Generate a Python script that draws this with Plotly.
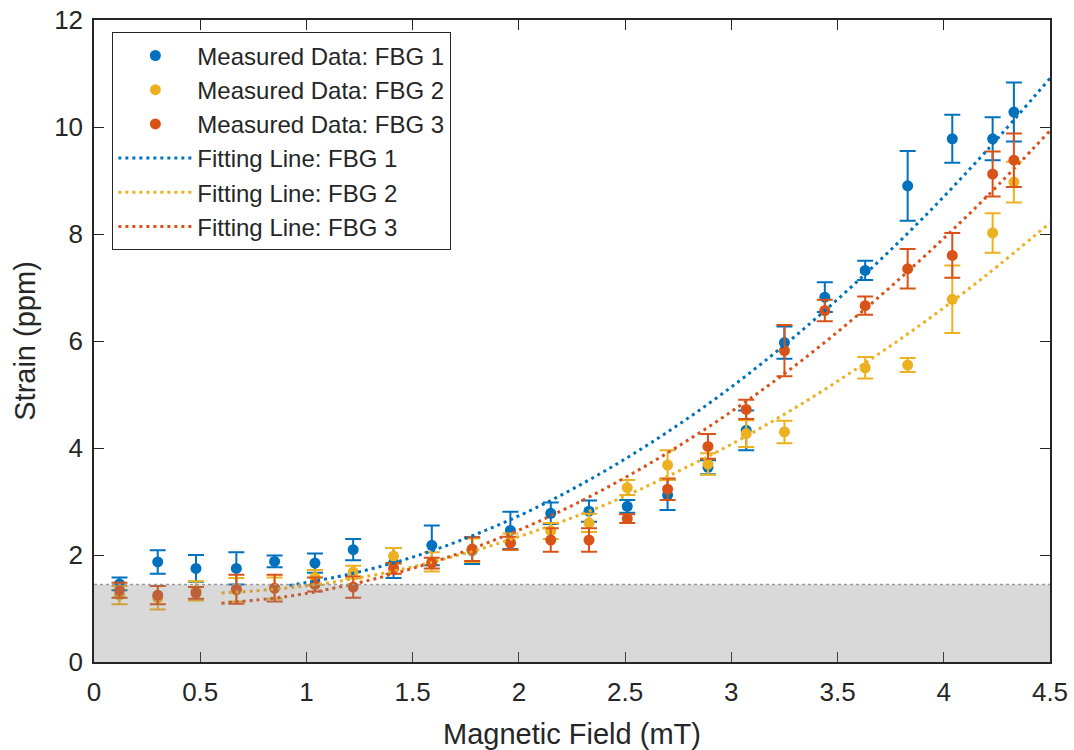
import plotly.graph_objects as go

# Magnetic field positions (mT) of the measurements
field = [0.12, 0.30, 0.48, 0.67, 0.85, 1.04, 1.22, 1.41, 1.59, 1.78, 1.96, 2.15,
         2.33, 2.51, 2.70, 2.89, 3.07, 3.25, 3.44, 3.63, 3.83, 4.04, 4.23, 4.33]

# FBG 1 strain (ppm) and its uncertainty
fbg1 = [1.46, 1.87, 1.75, 1.75, 1.88, 1.85, 2.10, 1.85, 2.18, 2.08, 2.46, 2.78,
        2.82, 2.91, 3.12, 3.64, 4.33, 5.97, 6.82, 7.32, 8.90, 9.78, 9.78, 10.28]
fbg1_err = [0.12, 0.22, 0.25, 0.30, 0.11, 0.18, 0.20, 0.28, 0.37, 0.25, 0.35, 0.20,
            0.20, 0.12, 0.28, 0.13, 0.37, 0.30, 0.28, 0.18, 0.65, 0.45, 0.40, 0.55]

# FBG 2 (no reading at 3.44 mT)
field2 = [0.12, 0.30, 0.48, 0.67, 0.85, 1.04, 1.22, 1.41, 1.59, 1.78, 1.96, 2.15,
          2.33, 2.51, 2.70, 2.89, 3.07, 3.25, 3.63, 3.83, 4.04, 4.23, 4.33]
fbg2 = [1.25, 1.20, 1.33, 1.35, 1.38, 1.58, 1.68, 1.98, 1.87, 2.09, 2.25, 2.45,
        2.60, 3.26, 3.68, 3.70, 4.27, 4.30, 5.50, 5.55, 6.78, 8.02, 8.97]
fbg2_err = [0.17, 0.22, 0.18, 0.22, 0.20, 0.14, 0.12, 0.15, 0.18, 0.22, 0.15, 0.15,
            0.17, 0.14, 0.28, 0.20, 0.25, 0.21, 0.20, 0.13, 0.63, 0.37, 0.38]

# FBG 3
fbg3 = [1.34, 1.25, 1.29, 1.36, 1.38, 1.45, 1.40, 1.75, 1.85, 2.11, 2.22, 2.28,
        2.28, 2.68, 3.23, 4.03, 4.72, 5.82, 6.57, 6.66, 7.35, 7.60, 9.12, 9.38]
fbg3_err = [0.14, 0.17, 0.11, 0.27, 0.25, 0.13, 0.20, 0.10, 0.10, 0.22, 0.12, 0.22,
            0.22, 0.08, 0.20, 0.23, 0.18, 0.48, 0.20, 0.17, 0.37, 0.42, 0.42, 0.50]

# Fitted curves
fit1_x = [0.92, 1.2, 1.5, 1.8, 2.1, 2.4, 2.7, 3.0, 3.3, 3.6, 3.9, 4.2, 4.5]
fit1_y = [1.43, 1.64, 1.96, 2.39, 2.92, 3.56, 4.30, 5.14, 6.09, 7.14, 8.29, 9.55, 10.91]
fit_x = [0.6, 0.9, 1.2, 1.5, 1.8, 2.1, 2.4, 2.7, 3.0, 3.3, 3.6, 3.9, 4.2, 4.5]
fit2_y = [1.29, 1.38, 1.54, 1.78, 2.09, 2.48, 2.93, 3.47, 4.07, 4.75, 5.51, 6.33, 7.23, 8.21]
fit3_y = [1.10, 1.22, 1.44, 1.75, 2.15, 2.64, 3.23, 3.91, 4.68, 5.54, 6.50, 7.55, 8.69, 9.93]

# Noise floor of the sensors (ppm)
noise_floor = 1.45

x_ticks = [0, 0.5, 1, 1.5, 2, 2.5, 3, 3.5, 4, 4.5]
x_tick_text = ["0", "0.5", "1", "1.5", "2", "2.5", "3", "3.5", "4", "4.5"]
y_ticks = [0, 2, 4, 6, 8, 10, 12]

BLUE = "#0072BD"
YELLOW = "#EDB120"
ORANGE = "#D95319"
FONT = "Liberation Sans, Arial, Helvetica, sans-serif"
AXIS = "#262626"

fig = go.Figure()


def measured(x, y, err, color, name):
    fig.add_trace(go.Scatter(
        x=x, y=y, mode="markers", name=name,
        marker=dict(color=color, size=11, symbol="circle"),
        error_y=dict(type="data", array=err, visible=True,
                     color=color, thickness=2, width=8),
    ))


def fitted(x, y, color, name):
    fig.add_trace(go.Scatter(
        x=x, y=y, mode="lines", name=name, line_shape="spline",
        line=dict(color=color, width=3, dash="3px,4px"),
    ))


measured(field, fbg1, fbg1_err, BLUE, "Measured Data: FBG 1")
measured(field2, fbg2, fbg2_err, YELLOW, "Measured Data: FBG 2")
measured(field, fbg3, fbg3_err, ORANGE, "Measured Data: FBG 3")
fitted(fit1_x, fit1_y, BLUE, "Fitting Line: FBG 1")
fitted(fit_x, fit2_y, YELLOW, "Fitting Line: FBG 2")
fitted(fit_x, fit3_y, ORANGE, "Fitting Line: FBG 3")

# Shaded band below the noise floor, laid over the data
fig.add_shape(type="rect", xref="x", yref="y", x0=0, x1=4.5, y0=0, y1=noise_floor,
              fillcolor="rgba(128,128,128,0.3)", line=dict(width=0), layer="above")
fig.add_shape(type="line", xref="x", yref="y", x0=0, x1=4.5,
              y0=noise_floor, y1=noise_floor,
              line=dict(color="#9a9a9a", width=1.5, dash="dot"), layer="above")

axis_common = dict(
    showline=True, linecolor=AXIS, linewidth=1.5, mirror="ticks",
    ticks="inside", ticklen=10, tickwidth=1.2, tickcolor=AXIS,
    showgrid=False, zeroline=False, automargin=False,
    tickfont=dict(family=FONT, size=26, color=AXIS),
)

fig.update_xaxes(
    range=[0, 4.5], tickvals=x_ticks, ticktext=x_tick_text,
    title=dict(text="Magnetic Field (mT)", font=dict(family=FONT, size=29, color=AXIS),
               standoff=22),
    ticklabelstandoff=6,
    **axis_common,
)
fig.update_yaxes(
    range=[0, 12], tickvals=y_ticks,
    title=dict(text="Strain (ppm)", font=dict(family=FONT, size=29, color=AXIS),
               standoff=10),
    ticklabelstandoff=4,
    **axis_common,
)

fig.update_layout(
    width=1074, height=750,
    margin=dict(l=94, r=24, t=20, b=88, autoexpand=False),
    paper_bgcolor="white", plot_bgcolor="white",
    font=dict(family=FONT, color=AXIS),
    legend=dict(
        x=0.019, y=0.981, xanchor="left", yanchor="top",
        bgcolor="white", bordercolor=AXIS, borderwidth=1.2,
        font=dict(family=FONT, size=24, color=AXIS),
        itemwidth=74, tracegroupgap=0,
    ),
    showlegend=True,
)

fig.write_html("out.html")
